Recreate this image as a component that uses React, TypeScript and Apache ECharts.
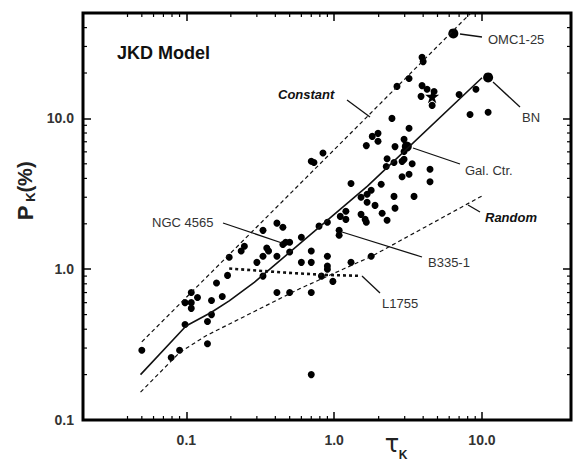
import React, { useEffect, useRef } from "react";
import * as echarts from "echarts";

// ---- data ----
const dotTau = [
  0.05, 0.079, 0.09, 0.098, 0.098, 0.108, 0.108, 0.119, 0.108, 0.139, 0.139, 0.148, 0.148, 0.16, 0.175, 0.19,
  0.195, 0.235, 0.247, 0.3, 0.33, 0.35, 0.36, 0.33, 0.41, 0.45, 0.41, 0.45, 0.47, 0.5, 0.5, 0.41, 0.5, 0.33,
  0.6, 0.6, 0.7, 0.7, 0.7, 0.7, 0.82, 0.9, 0.9, 0.9, 0.98, 0.79, 0.9, 0.84, 0.7, 0.73, 1.1, 1.08, 1.08, 1.2,
  1.2, 1.3, 1.3, 1.78, 1.52, 1.67, 1.52, 1.62, 1.65, 1.67, 1.78, 3.93, 4.0, 3.21, 2.66, 3.93, 4.25, 3.87, 4.6,
  4.74, 7.0, 9.1, 8.3, 11.0, 2.46, 3.21, 1.81, 1.98, 1.98, 1.65, 2.58, 2.97, 2.97, 2.97, 2.88, 2.28, 2.25, 2.54,
  3.37, 3.21, 2.88, 4.45, 4.45, 2.08, 2.54, 3.47, 1.89, 2.58, 2.11, 2.28,
];
const dotP = [
  0.29, 0.26, 0.29, 0.43, 0.6, 0.6, 0.55, 0.65, 0.7, 0.32, 0.45, 0.5, 0.62, 0.81, 0.66, 0.91,
  1.2, 1.32, 1.42, 1.11, 1.22, 1.38, 1.32, 1.81, 2.02, 1.9, 1.22, 1.46, 1.51, 1.51, 1.3, 0.7, 0.7, 0.9,
  1.63, 1.11, 1.11, 1.32, 0.7, 0.2, 0.9, 1.22, 1.05, 1.0, 0.83, 1.93, 2.05, 5.9, 5.2, 5.1, 2.24, 1.81, 1.68, 2.42,
  2.14, 3.7, 1.11, 1.22, 3.0, 2.78, 2.31, 2.14, 2.05, 3.14, 3.34, 25.4, 23.8, 18.4, 16.3, 16.5, 15.6, 14.0, 12.2,
  15.1, 14.4, 15.6, 10.6, 11.0, 10.0, 8.6, 7.6, 7.96, 7.05, 6.6, 6.5, 7.26, 6.04, 5.35, 5.19, 5.4, 4.8, 5.1,
  5.0, 4.26, 4.1, 4.6, 3.8, 3.66, 3.04, 3.04, 2.65, 2.54, 2.35, 2.11,
];
const namedTau = [6.4, 11.0, 3.1]; // OMC1-25, BN, Gal. Ctr.
const namedP = [36.6, 18.7, 6.5];
const starTau = [4.6];
const starP = [14.0];

const constantTau = [0.05, 1, 8.4];
const constantP = [0.33, 6.2, 50];
const randomTau = [0.049, 0.09, 0.136, 0.58, 1.8, 10];
const randomP = [0.153, 0.28, 0.362, 0.74, 1.22, 3.06];
const fitTau = [0.049, 0.0995, 0.147, 0.195, 0.288, 1.68, 10];
const fitP = [0.2, 0.42, 0.516, 0.617, 0.817, 3.56, 18.6];
const l1755Tau = [0.195, 0.46, 0.86, 1.52];
const l1755P = [1.01, 0.95, 0.917, 0.903];

const xMajorLabels = ["0.1", "1.0", "10.0"];
const yMajorLabels = ["0.1", "1.0", "10.0"];
const xMinorTicks = [0.04, 0.05, 0.06, 0.07, 0.08, 0.09, 0.2, 0.3, 0.4, 0.5, 0.6, 0.7, 0.8, 0.9, 2, 3, 4, 5, 6, 7, 8, 9];
const yMinorTicks = [0.2, 0.3, 0.4, 0.5, 0.6, 0.7, 0.8, 0.9, 2, 3, 4, 5, 6, 7, 8, 9, 20, 30, 40];

const FONT = "'Liberation Sans', Arial, Helvetica, sans-serif";
const STAR = "path://M50,0 L61,35 L98,35 L68,57 L79,91 L50,70 L21,91 L32,57 L2,35 L39,35 Z";

function zip(a: number[], b: number[]) {
  return a.map((v, i) => [v, b[i]]);
}

function labelFor(list: string[]) {
  return (v: number) => {
    const l = Math.log10(v);
    const r = Math.round(l);
    if (Math.abs(l - r) > 1e-6) return "";
    const s = list.find((t) => Math.abs(parseFloat(t) - Math.pow(10, r)) < 1e-9);
    return s || "";
  };
}

export default function App() {
  const ref = useRef<HTMLDivElement>(null);
  useEffect(() => {
    document.body.style.margin = "0";
    const chart = echarts.init(ref.current!, undefined, { renderer: "svg" });
    const tick = { show: true, inside: true, length: 8, lineStyle: { color: "#000", width: 1.5 } };
    const baseX = {
      type: "log" as const,
      logBase: 10,
      min: 0.02,
      max: 40,
      axisLine: { show: false },
      splitLine: { show: false },
      axisTick: tick,
    };
    const baseY = {
      type: "log" as const,
      logBase: 10,
      min: 0.1,
      max: 50,
      axisLine: { show: false },
      splitLine: { show: false },
      axisTick: tick,
    };
    const lineStyle = (type: any, width: number) => ({ color: "#111", width, type, opacity: 1 });
    const leader = (x1: number, y1: number, x2: number, y2: number) => ({
      type: "line",
      shape: { x1, y1, x2, y2 },
      style: { stroke: "#111", lineWidth: 1.3 },
      z: 10,
    });
    const txt = (text: string, x: number, y: number, extra: any = {}) => ({
      type: "text",
      x,
      y,
      z: 10,
      style: {
        text,
        fill: "#333",
        font: `13px ${FONT}`,
        verticalAlign: "middle",
        align: "left",
        ...extra,
      },
    });
    const dot = { color: "#000", opacity: 1 };
    chart.setOption({
      animation: false,
      backgroundColor: "#fff",
      grid: { left: 83, top: 13, width: 488, height: 407, show: true, borderColor: "#000", borderWidth: 3, backgroundColor: "transparent" },
      xAxis: [
        {
          ...baseX,
          position: "bottom",
          axisLabel: { formatter: labelFor(xMajorLabels), margin: 13, color: "#333", fontWeight: "bold", fontSize: 14, fontFamily: FONT },
        },
        { ...baseX, position: "top", axisLabel: { show: false } },
      ],
      yAxis: [
        {
          ...baseY,
          position: "left",
          axisLabel: { formatter: labelFor(yMajorLabels), margin: 9, color: "#333", fontWeight: "bold", fontSize: 14, fontFamily: FONT },
        },
        { ...baseY, position: "right", axisLabel: { show: false } },
      ],
      series: [
        {
          type: "custom",
          silent: true,
          data: xMinorTicks.map((v) => [v, 1]),
          renderItem: (params: any, api: any) => {
            const cs = params.coordSys;
            const x = api.coord([api.value(0), 1])[0];
            const st = { stroke: "#000", lineWidth: 1.2 };
            return {
              type: "group",
              children: [
                { type: "line", shape: { x1: x, y1: cs.y + cs.height, x2: x, y2: cs.y + cs.height - 4 }, style: st },
                { type: "line", shape: { x1: x, y1: cs.y, x2: x, y2: cs.y + 4 }, style: st },
              ],
            };
          },
        },
        {
          type: "custom",
          silent: true,
          data: yMinorTicks.map((v) => [1, v]),
          renderItem: (params: any, api: any) => {
            const cs = params.coordSys;
            const y = api.coord([1, api.value(1)])[1];
            const st = { stroke: "#000", lineWidth: 1.2 };
            return {
              type: "group",
              children: [
                { type: "line", shape: { x1: cs.x, y1: y, x2: cs.x + 4, y2: y }, style: st },
                { type: "line", shape: { x1: cs.x + cs.width, y1: y, x2: cs.x + cs.width - 4, y2: y }, style: st },
              ],
            };
          },
        },
        { type: "line", data: zip(constantTau, constantP), symbol: "none", lineStyle: lineStyle([4, 3], 1.2) },
        { type: "line", data: zip(randomTau, randomP), symbol: "none", lineStyle: lineStyle([4, 3], 1.2) },
        { type: "line", data: zip(fitTau, fitP), symbol: "none", lineStyle: lineStyle("solid", 1.6) },
        { type: "line", data: zip(l1755Tau, l1755P), symbol: "none", lineStyle: lineStyle([3, 3], 2.6) },
        { type: "scatter", data: zip(dotTau, dotP), symbol: "circle", symbolSize: 7, itemStyle: dot },
        { type: "scatter", data: zip(namedTau, namedP), symbol: "circle", symbolSize: 10, itemStyle: dot },
        { type: "scatter", data: zip(starTau, starP), symbol: STAR, symbolSize: 14, itemStyle: dot },
      ],
      graphic: [
        txt("JKD Model", 117, 53, { font: `bold 18px ${FONT}`, fill: "#111" }),
        txt("Constant", 278, 94, { font: `italic bold 13px ${FONT}`, fill: "#111" }),
        txt("Random", 485, 217, { font: `italic bold 13px ${FONT}`, fill: "#111" }),
        txt("OMC1-25", 488, 39),
        txt("BN", 522, 117),
        txt("Gal. Ctr.", 465, 170),
        txt("NGC 4565", 152, 222),
        txt("B335-1", 428, 262),
        txt("L1755", 382, 303),
        leader(347, 100, 370, 117),
        leader(460, 34, 482, 37),
        leader(493, 82, 520, 107),
        leader(413, 148, 460, 164),
        leader(468, 205, 480, 212),
        leader(223, 223, 282, 243),
        leader(342, 232, 422, 257),
        leader(362, 276, 380, 293),
        // axis titles
        txt("\u03c4", 392, 444, { font: `24px 'DejaVu Sans', sans-serif`, fill: "#222", align: "center" }),
        txt("K", 403, 455, { font: `bold 12px ${FONT}`, fill: "#222", align: "center" }),
        { type: "text", x: 25, y: 213, rotation: Math.PI / 2, z: 10, style: { text: "P", font: `bold 22px ${FONT}`, fill: "#222", align: "center", verticalAlign: "middle" } },
        { type: "text", x: 30, y: 197, rotation: Math.PI / 2, z: 10, style: { text: "K", font: `bold 13px ${FONT}`, fill: "#222", align: "center", verticalAlign: "middle" } },
        { type: "text", x: 25, y: 177, rotation: Math.PI / 2, z: 10, style: { text: "(%)", font: `bold 20px ${FONT}`, fill: "#222", align: "center", verticalAlign: "middle" } },
      ],
    });
    return () => chart.dispose();
  }, []);
  return <div ref={ref} style={{ width: 575, height: 466 }} />;
}
